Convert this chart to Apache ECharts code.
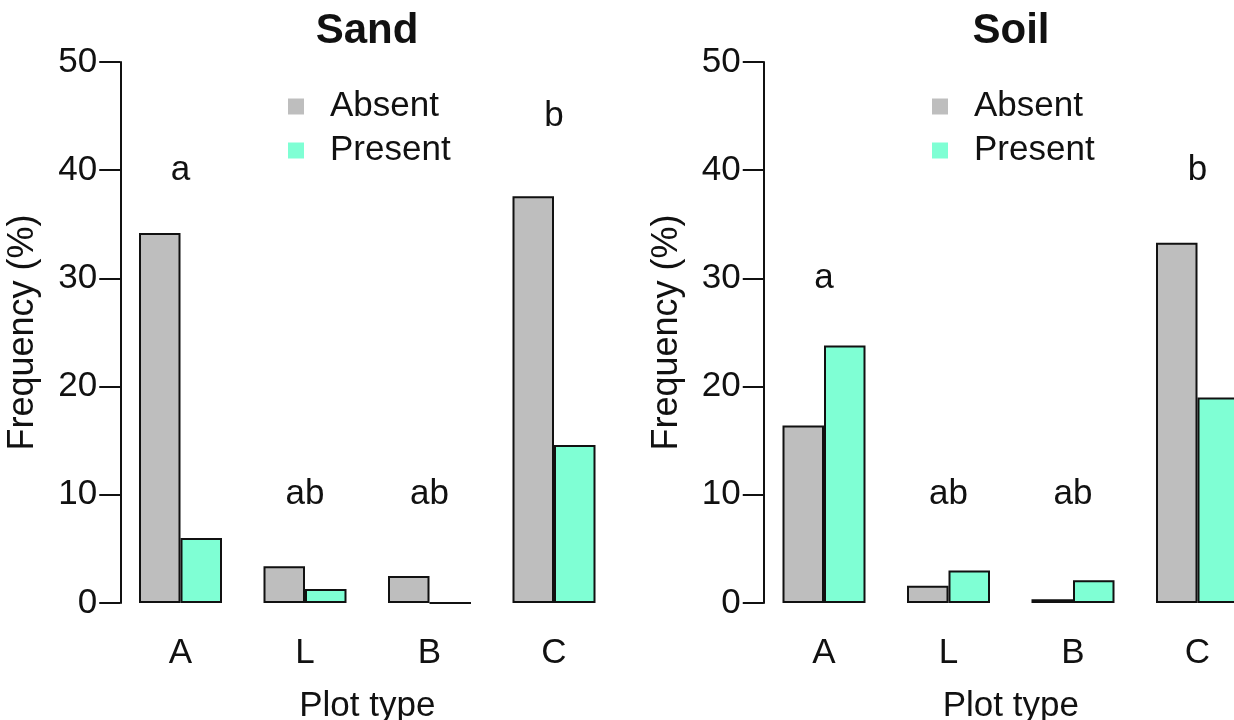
<!DOCTYPE html>
<html>
<head>
<meta charset="utf-8">
<script src="https://cdn.jsdelivr.net/npm/echarts@6/dist/echarts.min.js"></script>
<style>
html, body { margin: 0; padding: 0; background: #fff; }
#main { width: 1234px; height: 720px; }
</style>
</head>
<body>
<div id="main"></div>
<script>
// plot types on the x axis
var plotTypes = ["A", "L", "B", "C"];
var seriesNames = ["Absent", "Present"];

// frequency (%)
var sandAbsent = [34.2, 3.4, 2.5, 37.6];
var sandPresent = [6.0, 1.3, 0, 14.6];
var soilAbsent = [16.4, 1.6, 0.35, 33.3];
var soilPresent = [23.8, 3.0, 2.1, 19.0];

// significance letters and the height they sit at
var sandLetters = ["a", "ab", "ab", "b"];
var sandLetterY = [40, 10, 10, 45];
var soilLetters = ["a", "ab", "ab", "b"];
var soilLetterY = [30, 10, 10, 40];

var yTicks = [0, 10, 20, 30, 40, 50];

var FONT = "'Liberation Sans', Arial, sans-serif";
var FS = 35;
var colors = ["#bebebe", "#7fffd4"];

function letterData(ys) {
  return ys.map(function (y, i) { return [i, y]; });
}

function barSeries(name, data, idx, color) {
  return {
    name: name,
    type: "bar",
    xAxisIndex: idx,
    yAxisIndex: idx,
    data: data,
    barWidth: 41.5,
    barGap: "0%",
    itemStyle: { color: color, borderColor: "#111", borderWidth: 2 },
    emphasis: { disabled: true }
  };
}

function letterSeries(ys, letters, idx) {
  return {
    type: "scatter",
    xAxisIndex: idx,
    yAxisIndex: idx,
    data: letterData(ys),
    symbolSize: 0,
    itemStyle: { color: "#111", opacity: 1 },
    label: {
      show: true,
      position: "inside",
      fontFamily: FONT,
      fontSize: FS,
      color: "#111",
      opacity: 1,
      textBorderWidth: 0,
      formatter: function (p) { return letters[p.dataIndex]; }
    },
    emphasis: { disabled: true },
    silent: true
  };
}

function xAxis(idx) {
  return {
    type: "category",
    gridIndex: idx,
    data: plotTypes,
    axisLine: { show: false },
    axisTick: { show: false },
    axisLabel: { margin: 33, fontFamily: FONT, fontSize: FS, color: "#111" },
    name: "Plot type",
    nameLocation: "middle",
    nameGap: 86,
    nameTextStyle: { fontFamily: FONT, fontSize: FS, color: "#111" }
  };
}

function yAxis(idx) {
  return {
    type: "value",
    gridIndex: idx,
    min: 0,
    max: 50,
    interval: 10,
    offset: -2,
    axisLine: { show: true, lineStyle: { color: "#111", width: 2 } },
    axisTick: { show: true, length: 21, lineStyle: { color: "#111", width: 2 } },
    axisLabel: {
      margin: 23,
      fontFamily: FONT,
      fontSize: FS,
      color: "#111",
      formatter: function (v) { return yTicks.indexOf(v) >= 0 ? String(v) : ""; }
    },
    splitLine: { show: false },
    name: "Frequency (%)",
    nameLocation: "middle",
    nameRotate: 90,
    nameGap: 79,
    nameTextStyle: { fontFamily: FONT, fontSize: 36, color: "#111" }
  };
}

function legend(left) {
  return {
    data: seriesNames,
    orient: "vertical",
    left: left,
    top: 89,
    padding: 0,
    itemGap: 9,
    itemWidth: 16,
    itemHeight: 16,
    icon: "rect",
    selectedMode: false,
    itemStyle: { borderWidth: 0 },
    textStyle: {
      fontFamily: FONT,
      fontSize: FS,
      lineHeight: 35,
      color: "#111",
      padding: [0, 0, 0, 21]
    }
  };
}

var chart = echarts.init(document.getElementById("main"), null, { renderer: "canvas" });
chart.setOption({
  backgroundColor: "#fff",
  animation: false,
  color: colors,
  grid: [
    { left: 118.25, top: 62, width: 498, height: 541, outerBoundsMode: "none", containLabel: false },
    { left: 761.75, top: 62, width: 498, height: 541, outerBoundsMode: "none", containLabel: false }
  ],
  legend: [legend(288), legend(932)],
  xAxis: [xAxis(0), xAxis(1)],
  yAxis: [yAxis(0), yAxis(1)],
  graphic: [
    { type: "text", x: 367, y: 31, style: { text: "Sand", font: "bold 42px " + FONT, fill: "#111", align: "center", verticalAlign: "middle" } },
    { type: "text", x: 1011, y: 31, style: { text: "Soil", font: "bold 42px " + FONT, fill: "#111", align: "center", verticalAlign: "middle" } }
  ],
  series: [
    barSeries("Absent", sandAbsent, 0, colors[0]),
    barSeries("Present", sandPresent, 0, colors[1]),
    letterSeries(sandLetterY, sandLetters, 0),
    barSeries("Absent", soilAbsent, 1, colors[0]),
    barSeries("Present", soilPresent, 1, colors[1]),
    letterSeries(soilLetterY, soilLetters, 1)
  ]
});
</script>
</body>
</html>
